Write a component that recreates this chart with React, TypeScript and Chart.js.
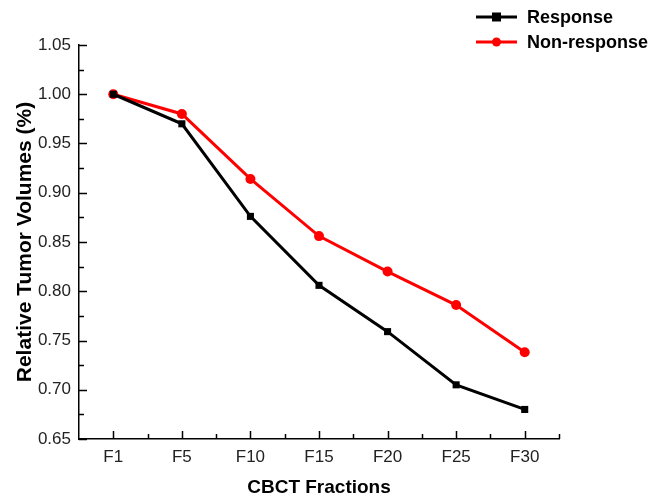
import React, { useEffect, useRef } from "react";
import { Chart, registerables } from "chart.js";

Chart.register(...registerables);

const categories = ["F1", "F5", "F10", "F15", "F20", "F25", "F30"];
const responseValues = [1.0, 0.97, 0.876, 0.806, 0.759, 0.705, 0.68];
const nonResponseValues = [1.0, 0.98, 0.914, 0.856, 0.82, 0.786, 0.738];
const yMin = 0.65;
const yMax = 1.05;
const yStep = 0.05;
const seriesNames = ["Response", "Non-response"];

const FONT = "Arial, 'Liberation Sans', sans-serif";

const tickPlugin = {
  id: "inwardTicks",
  afterDraw(chart: any) {
    const ctx = chart.ctx;
    const { left, bottom } = chart.chartArea;
    const ys = chart.scales.y;
    const xs = chart.scales.x;
    ctx.save();
    ctx.strokeStyle = "#000";
    ctx.lineWidth = 1.5;
    ctx.beginPath();
    const n = Math.round((yMax - yMin) / (yStep / 2));
    for (let i = 0; i <= n; i++) {
      const v = yMin + (i * yStep) / 2;
      const py = Math.round(ys.getPixelForValue(v)) + 0.5;
      const len = i % 2 === 0 ? 8 : 5;
      ctx.moveTo(left, py);
      ctx.lineTo(left + len, py);
    }
    for (let i = 0; i < categories.length; i++) {
      const px = Math.round(xs.getPixelForValue(i)) + 0.5;
      ctx.moveTo(px, bottom);
      ctx.lineTo(px, bottom - 8);
      const pb = Math.round(xs.getPixelForValue(i + 0.5)) + 0.5;
      ctx.moveTo(pb, bottom);
      ctx.lineTo(pb, bottom - 5);
    }
    ctx.stroke();
    // legend
    const items = [
      { name: seriesNames[0], color: "#000", style: "rect", y: 17 },
      { name: seriesNames[1], color: "#ff0000", style: "circle", y: 42 },
    ];
    ctx.font = "bold 18px " + FONT;
    ctx.textBaseline = "middle";
    for (const it of items) {
      ctx.strokeStyle = it.color;
      ctx.fillStyle = it.color;
      ctx.lineWidth = 3;
      ctx.beginPath();
      ctx.moveTo(476, it.y);
      ctx.lineTo(517, it.y);
      ctx.stroke();
      ctx.beginPath();
      if (it.style === "rect") ctx.rect(492, it.y - 4.5, 9, 9);
      else ctx.arc(496.5, it.y, 4.5, 0, Math.PI * 2);
      ctx.fill();
      ctx.fillStyle = "#000";
      ctx.fillText(it.name, 527, it.y + 1);
    }
    ctx.restore();
  },
};

export default function App() {
  const ref = useRef<HTMLCanvasElement>(null);
  useEffect(() => {
    if (!ref.current) return;
    const chart = new Chart(ref.current, {
      type: "line",
      data: {
        labels: categories,
        datasets: [
          {
            label: seriesNames[0],
            data: responseValues,
            borderColor: "#000",
            backgroundColor: "#000",
            borderWidth: 3,
            pointStyle: "rect",
            pointRadius: 5,
            pointBorderWidth: 0,
            tension: 0,
          },
          {
            label: seriesNames[1],
            data: nonResponseValues,
            borderColor: "#ff0000",
            backgroundColor: "#ff0000",
            borderWidth: 3,
            pointStyle: "circle",
            pointRadius: 5,
            pointBorderWidth: 0,
            tension: 0,
          },
        ],
      },
      options: {
        animation: false,
        responsive: false,
        layout: { padding: { top: 45, right: 94, left: 0, bottom: 0 } },
        plugins: { legend: { display: false }, tooltip: { enabled: false } },
        scales: {
          x: {
            offset: true,
            afterFit: (s: any) => {
              s.height = 59;
            },
            grid: { display: false, drawTicks: false },
            border: { display: true, color: "#000", width: 1.5 },
            ticks: {
              color: "#222",
              padding: 8,
              font: { size: 17, family: FONT },
            },
            title: {
              display: true,
              text: "CBCT Fractions",
              color: "#000",
              font: { size: 19, weight: "bold", family: FONT },
              padding: { top: 0, bottom: -1 },
            },
          },
          y: {
            min: yMin,
            max: yMax,
            afterFit: (s: any) => {
              s.width = 79;
            },
            grid: { display: false, drawTicks: false },
            border: { display: true, color: "#000", width: 1.5 },
            ticks: {
              stepSize: yStep,
              color: "#222",
              padding: 8,
              callback: (v: any) => Number(v).toFixed(2),
              font: { size: 17, family: FONT },
            },
            title: {
              display: true,
              text: "Relative Tumor Volumes (%)",
              color: "#000",
              font: { size: 21, weight: "bold", family: FONT },
              padding: { top: 13, bottom: 0 },
            },
          },
        },
      },
      plugins: [tickPlugin],
    });
    return () => chart.destroy();
  }, []);
  return (
    <div style={{ position: "fixed", left: 0, top: 0, width: 653, height: 498, background: "#fff" }}>
      <canvas ref={ref} width={653} height={498} />
    </div>
  );
}
